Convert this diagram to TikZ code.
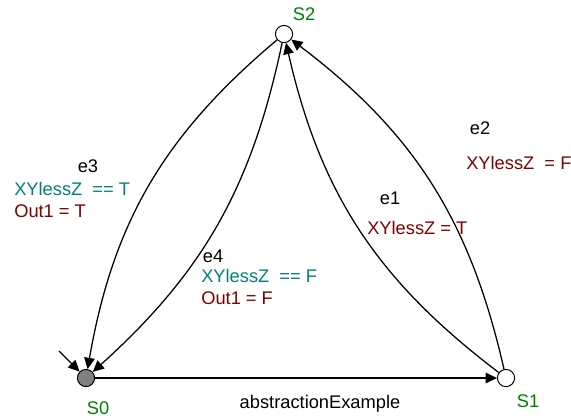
\documentclass[tikz,border=0pt]{standalone}
\usepackage{fontspec}
\setmainfont{Liberation Sans}
\usetikzlibrary{arrows.meta, positioning}
\definecolor{StateGreen}{RGB}{0, 128, 0}
\definecolor{GuardTeal}{RGB}{0, 128, 128}
\definecolor{ActionRed}{RGB}{128, 0, 0}
\definecolor{StateGray}{RGB}{128, 128, 128}

\begin{document}
\begin{tikzpicture}[x=0.025cm, y=-0.025cm, font=\fontsize{13}{15}\selectfont,
    state/.style={circle, draw, line width=0.7pt, fill=white, inner sep=0pt, minimum size=0.43cm},
    trans/.style={line width=0.9pt, -{Triangle[length=8pt, width=7.5pt]}},
    statename/.style={StateGreen},
    guard/.style={align=left, anchor=west, inner sep=0pt}]
    \useasboundingbox (0,0) rectangle (571,417);

    % States
    \node[state, fill=StateGray] (S0) at (86,378) {};
    \node[state] (S1) at (506,378) {};
    \node[state] (S2) at (284,34) {};
    \node[statename] (S0name) at (98,408) {S0};
    \node[statename] (S1name) at (528,401) {S1};
    \node[statename] (S2name) at (304,14) {S2};

    % Initial arrow
    \coordinate (init) at (59,351);
    \draw[trans] (init) -- (S0);

    % Transitions
    \draw[trans] (S0) -- (S1);
    \draw[trans] (S1) to[bend left=20] (S2);
    \draw[trans] (S1) to[bend right=20] (S2);
    \draw[trans] (S2) to[bend right=20] (S0);
    \draw[trans] (S2) to[bend left=18] (S0);

    % Edge labels
    \node (e1) at (390,198) {e1};
    \node[guard, ActionRed] (e1g) at (367,228) {XYlessZ = T};
    \node (e2) at (480,128) {e2};
    \node[guard, ActionRed] (e2g) at (466,163) {XYlessZ\ \ = F};
    \node (e3) at (88,166) {e3};
    \node[guard] (e3g) at (14,200) {\color{GuardTeal}XYlessZ\ \ == T\\\color{ActionRed}Out1 = T};
    \node (e4) at (213,256) {e4};
    \node[guard] (e4g) at (201,287) {\color{GuardTeal}XYlessZ\ \ == F\\\color{ActionRed}Out1 = F};

    % Diagram name
    \node (title) at (320,404) {abstractionExample};
\end{tikzpicture}
\end{document}
